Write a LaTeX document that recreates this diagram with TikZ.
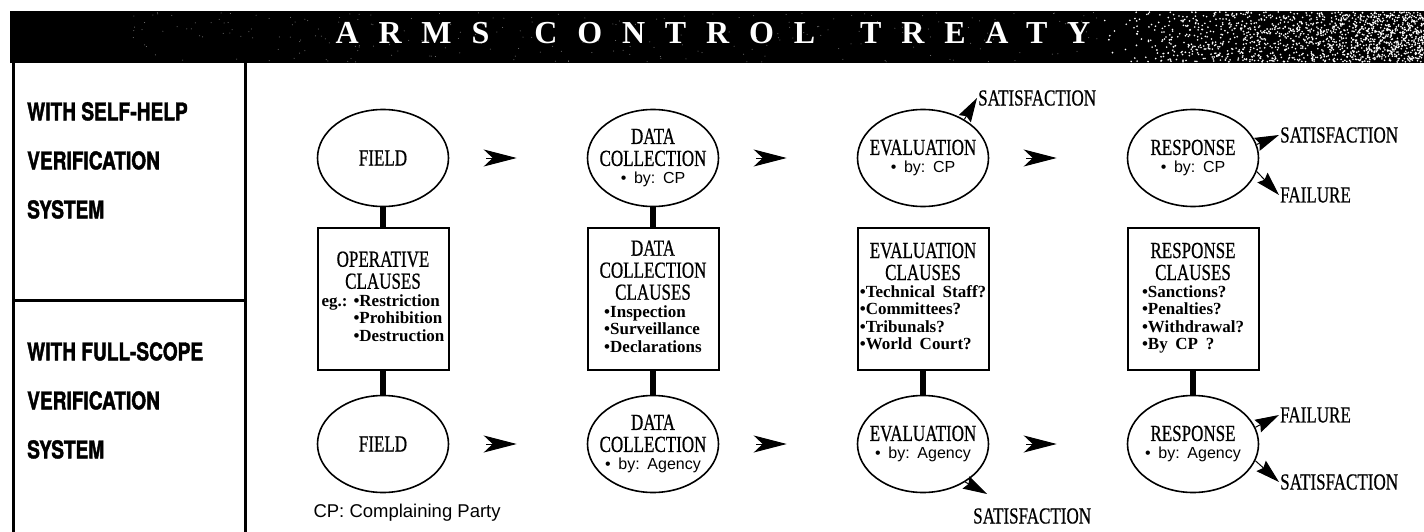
\documentclass[tikz,border=0pt]{standalone}
\usepackage{fontspec}
\usepackage{tikz}
\usetikzlibrary{arrows.meta,positioning,shapes.geometric}

\newfontfamily\ovalfont[FakeStretch=0.74,FakeBold=0.6]{Liberation Serif}
\newfontfamily\listfont{Liberation Serif}
\newfontfamily\byfont{Liberation Sans}
\newfontfamily\sidefont[FakeStretch=0.78,BoldFeatures={FakeBold=1.6}]{TeX Gyre Heros}
\newfontfamily\headfont[LetterSpace=62]{Liberation Serif}
\newcommand\bytext{\byfont\fontsize{16}{16}\selectfont}
\newcommand\listtext{\listfont\bfseries\fontsize{17}{17.5}\selectfont}
\frenchspacing

\begin{document}
\begin{tikzpicture}[x=1pt,y=-1pt,>=Stealth,node distance=270pt,
    oval/.style={draw,ellipse,line width=1.6pt,minimum width=131pt,minimum height=97pt,
      text width=118pt,inner xsep=-13pt,inner ysep=0pt,align=center,
      font=\ovalfont\fontsize{23}{22}\selectfont},
    clause/.style={draw,rectangle,line width=2pt,minimum width=131pt,minimum height=142pt,
      text width=127pt,inner sep=0pt,align=center,
      font=\ovalfont\fontsize{23}{22}\selectfont},
    link/.style={line width=6pt},
    flow/.style={-{Stealth[length=33pt,width=17pt,inset=9pt]},line width=1pt,
      shorten <=37pt,shorten >=70pt},
    result/.style={-{Stealth[length=24pt,width=14pt,inset=3pt]},line width=1pt},
    outcome/.style={font=\ovalfont\fontsize{23}{22}\selectfont,inner sep=1pt},
    side/.style={font=\sidefont\bfseries\fontsize{24.5}{49}\selectfont,align=left,inner sep=0pt},
    frame/.style={line width=3pt}]

  \useasboundingbox (0,0) rectangle (1424,532);

  % title bar
  \fill (10,11) rectangle (1424,63);
  \pgfmathsetseed{42}
  \foreach \k in {1,...,1400}
    \fill[white] ({1098+326*sqrt(rnd)},{12+50*rnd}) circle (0.9pt);
  \foreach \k in {1,...,250}
    \fill[gray] ({130+968*rnd},{12+50*rnd}) circle (0.5pt);
  \node[text=white,inner sep=0pt,font=\headfont\bfseries\fontsize{32}{32}\selectfont] (title) at (713,33)
    {ARMS\hspace{45pt}CONTROL\hspace{45pt}TREATY};

  % left panel
  \draw[frame] (13,63) -- (13,532) (245,63) -- (245,532) (13,300) -- (245,300);
  \node[side,anchor=north west] (selfhelp) at (27,102) {WITH SELF-HELP\\VERIFICATION\\SYSTEM};
  \node[side,anchor=north west] (fullscope) at (27,342) {WITH FULL-SCOPE\\VERIFICATION\\SYSTEM};

  % self-help row
  \node[oval] (field) at (383,158) {FIELD};
  \node[oval] (data) [right of=field] {DATA\\COLLECTION\\[-4pt]{\bytext • by: CP}};
  \node[oval] (eval) [right of=data] {EVALUATION\\[-4pt]{\bytext • by: CP}};
  \node[oval] (resp) [right of=eval] {RESPONSE\\[-4pt]{\bytext • by: CP}};

  % clauses
  \node[clause] (opcl) [below of=field,node distance=141pt]
    {OPERATIVE\\CLAUSES\\[4pt]{\listtext\begin{tabular}{@{}l@{\hspace{6pt}}l@{}}
      eg.: & •Restriction\\ & •Prohibition\\ & •Destruction\end{tabular}}};
  \node[clause] (dccl) [below of=data,node distance=141pt]
    {DATA\\COLLECTION\\CLAUSES\\[4pt]{\listtext\begin{tabular}{@{}l@{}}
      •Inspection\\•Surveillance\\•Declarations\end{tabular}}};
  \node[clause] (evcl) [below of=eval,node distance=141pt]
    {EVALUATION\\CLAUSES\\[4pt]{\listtext\begin{tabular}{@{}l@{}}
      •Technical Staff?\\•Committees?\\•Tribunals?\\•World Court?\end{tabular}}};
  \node[clause] (rscl) [below of=resp,node distance=141pt]
    {RESPONSE\\CLAUSES\\[4pt]{\listtext\begin{tabular}{@{}l@{}}
      •Sanctions?\\•Penalties?\\•Withdrawal?\\•By CP ?\end{tabular}}};

  % full-scope row
  \node[oval] (field2) [below of=opcl,node distance=145pt] {FIELD};
  \node[oval] (data2) [below of=dccl,node distance=145pt] {DATA\\COLLECTION\\[-4pt]{\bytext • by: Agency}};
  \node[oval] (eval2) [below of=evcl,node distance=145pt] {EVALUATION\\[-4pt]{\bytext • by: Agency}};
  \node[oval] (resp2) [below of=rscl,node distance=145pt] {RESPONSE\\[-4pt]{\bytext • by: Agency}};

  \node[font=\byfont\fontsize{18.5}{18.5}\selectfont,anchor=west] (cpnote) at (310,513)
    {CP: Complaining Party};

  \path (field) edge[link] (opcl)
        (data) edge[link] (dccl)
        (opcl) edge[link] (field2)
        (dccl) edge[link] (data2)
        (evcl) edge[link] (eval2)
        (rscl) edge[link] (resp2);

  \path (field) edge[flow] (data)
        (data) edge[flow] (eval)
        (eval) edge[flow] (resp)
        (field2) edge[flow] (data2)
        (data2) edge[flow] (eval2)
        (eval2) edge[flow] (resp2);

  % outcomes
  \node[outcome,anchor=west] (sat1) at (977,98) {SATISFACTION};
  \node[outcome,anchor=west] (sat2) at (1279,135) {SATISFACTION};
  \node[outcome,anchor=west] (fail2) at (1279,195) {FAILURE};
  \node[outcome,anchor=west] (sat3) at (972,516) {SATISFACTION};
  \node[outcome,anchor=west] (fail4) at (1279,415) {FAILURE};
  \node[outcome,anchor=west] (sat4) at (1279,482) {SATISFACTION};
  \coordinate (sattip) at (987,494);

  \draw[result] (eval.43) -- (sat1.west);
  \draw[result] (resp.12) -- (sat2.west);
  \draw[result] (resp.-12) -- (fail2.west);
  \draw[result] (eval2.-42) -- (sattip);
  \draw[result] (resp2.15) -- (fail4.west);
  \draw[result] (resp2.-15) -- (sat4.west);

\end{tikzpicture}
\end{document}
